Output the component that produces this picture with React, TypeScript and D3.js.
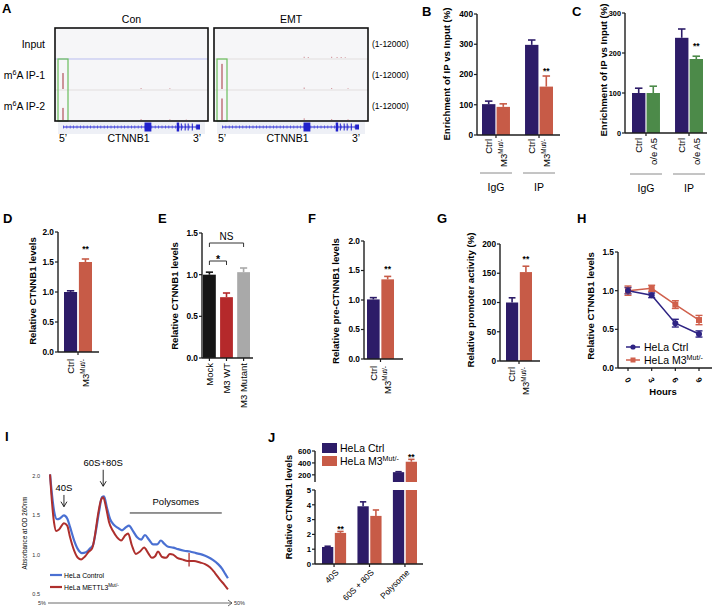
import React from 'react';
import * as d3 from 'd3';

const FONT = '"Liberation Sans", Arial, Helvetica, sans-serif';
const PURPLE = '#2d1c68';
const ORANGE = '#c75b47';
const GREEN = '#4c8a49';
const AXIS = '#1e1e1e';
const TICK_FS = 8.3;
const YLAB_FS = 9.6;

// ---------- Panel A ----------
const aSamples = ['Con', 'EMT'];
const aTracks = ['Input', 'm^6A IP-1', 'm^6A IP-2'];
const aRangeLabel = '(1-12000)';
const aPeakCon = [0, 6600, 5000];
const aPeakEmt = [0, 10400, 8900];
const aSpecksCon: [number, number, number][] = [[1, 0.57, 400], [1, 0.78, 300], [2, 0.57, 400], [2, 0.78, 300], [2, 0.9, 200]];
const aSpecksEmt: [number, number, number][] = [[0, 0.6, 500], [0, 0.63, 400], [0, 0.8, 500], [0, 0.84, 400], [0, 0.87, 400], [0, 0.9, 300], [1, 0.6, 600], [1, 0.8, 400], [1, 0.92, 300], [2, 0.6, 700], [2, 0.8, 400], [2, 0.92, 300]];
const aExons: [number, number, number][] = [[0.595, 0.645, 9], [0.83, 0.848, 9], [0.86, 0.866, 7], [0.888, 0.894, 7], [0.91, 0.916, 7], [0.94, 0.946, 7], [0.972, 1.0, 5]];

// ---------- Panel B ----------
const bGroups = ['IgG', 'IP'];
const bSeries = ['Ctrl', 'M3^Mut/-'];
const bCtrl = [102, 298];
const bCtrlErr = [10, 16];
const bMut = [93, 160];
const bMutErr = [10, 35];
const bTicks = [0, 100, 200, 300, 400];

// ---------- Panel C ----------
const cGroups = ['IgG', 'IP'];
const cSeries = ['Ctrl', 'o/e A5'];
const cCtrl = [100, 238];
const cCtrlErr = [12, 22];
const cOe = [100, 185];
const cOeErr = [17, 7];
const cTicks = [0, 100, 200, 300];

// ---------- Panel D ----------
const dCats = ['Ctrl', 'M3^Mut/-'];
const dVals = [1.0, 1.5];
const dErrs = [0.02, 0.05];
const dTicks = [0, 0.5, 1.0, 1.5, 2.0];

// ---------- Panel E ----------
const eCats = ['Mock', 'M3 WT', 'M3 Mutant'];
const eVals = [1.0, 0.73, 1.03];
const eErrs = [0.03, 0.05, 0.05];
const eTicks = [0, 0.5, 1.0, 1.5];

// ---------- Panel F ----------
const fCats = ['Ctrl', 'M3^Mut/-'];
const fVals = [1.01, 1.35];
const fErrs = [0.03, 0.05];
const fTicks = [0, 0.5, 1.0, 1.5, 2.0];

// ---------- Panel G ----------
const gCats = ['Ctrl', 'M3^Mut/-'];
const gVals = [100, 152];
const gErrs = [8, 10];
const gTicks = [0, 50, 100, 150, 200];

// ---------- Panel H ----------
const hHours = [0, 3, 6, 9];
const hCtrl = [1.0, 0.94, 0.58, 0.44];
const hCtrlErr = [0.04, 0.03, 0.05, 0.04];
const hMut = [1.0, 1.03, 0.82, 0.62];
const hMutErr = [0.06, 0.04, 0.05, 0.06];
const hTicks = [0, 0.5, 1.0, 1.5];

// ---------- Panel I ----------
const iCtrlX = [5.5, 6.0, 6.5, 7.2, 7.9, 8.9, 9.7, 10.4, 11.4, 12.3, 13.3, 14.3, 15.3, 16.0, 16.7, 17.5, 18.2, 18.7, 19.4, 20.2, 21.1, 22.1, 23.1, 24.1, 24.8, 25.8, 26.8, 27.8, 28.7, 29.7, 30.7, 31.7, 32.6, 33.4, 34.4, 35.6, 36.8, 38.3, 39.7, 41.2, 42.7, 44.1, 45.4, 46.6, 47.6, 48.3, 49.0];
const iCtrlY = [2.02, 1.75, 1.55, 1.45, 1.46, 1.5, 1.46, 1.35, 1.18, 1.07, 1.02, 1.03, 1.08, 1.12, 1.3, 1.55, 1.73, 1.74, 1.6, 1.45, 1.38, 1.34, 1.31, 1.35, 1.37, 1.3, 1.22, 1.19, 1.25, 1.19, 1.13, 1.13, 1.18, 1.14, 1.1, 1.09, 1.07, 1.05, 1.04, 1.02, 1.0, 0.97, 0.93, 0.88, 0.82, 0.76, 0.70];
const iMutX = [5.5, 6.0, 6.5, 7.0, 7.7, 8.9, 9.7, 10.4, 11.4, 12.3, 13.1, 14.1, 15.0, 15.8, 16.5, 17.2, 18.0, 18.5, 19.2, 19.9, 20.9, 21.9, 22.9, 23.8, 24.6, 25.5, 26.5, 27.5, 28.5, 29.5, 30.4, 31.2, 31.9, 32.9, 33.9, 34.8, 35.6, 36.6, 37.8, 39.2, 40.7, 42.2, 43.4, 44.6, 45.8, 47.1, 48.1, 49.0];
const iMutY = [2.02, 1.65, 1.4, 1.3, 1.32, 1.4, 1.37, 1.22, 1.05, 0.96, 0.94, 0.98, 1.04, 1.08, 1.25, 1.5, 1.7, 1.73, 1.6, 1.42, 1.3, 1.22, 1.18, 1.24, 1.27, 1.12, 1.01, 1.04, 1.09, 1.02, 0.96, 0.98, 1.04, 0.97, 0.96, 1.01, 1.0, 0.96, 0.94, 0.92, 0.92, 0.9, 0.88, 0.84, 0.77, 0.68, 0.62, 0.56];
const iTicks = [0.5, 1.0, 1.5, 2.0];
const iMarker = [39.5, 0.85, 1.02];
// label, x (% gradient), label level (absorbance units), arrow length (absorbance units)
const iAnno: [string, number, number, number][] = [['40S', 8.9, 1.81, 0.2], ['60S+80S', 18.5, 2.13, 0.26]];
const iPoly = [25.0, 47.5, 1.53];

// ---------- Panel J ----------
const jCats = ['40S', '60S + 80S', 'Polysome'];
const jCtrl = [1.15, 3.9, 245];
const jCtrlErr = [0.05, 0.3, 8];
const jMut = [2.1, 3.25, 420];
const jMutErr = [0.1, 0.4, 40];
const jLowTicks = [0, 1, 2, 3, 4, 5];
const jHighTicks = [200, 400, 600];

function Sup({ t, size }: { t: string; size: number }) {
  const [a, b] = t.split('^');
  if (!b) return <>{a}</>;
  return (
    <>
      {a}
      <tspan fontSize={size * 0.68} dy={-size * 0.38}>{b}</tspan>
    </>
  );
}

function MidSup({ t, size }: { t: string; size: number }) {
  const m = t.match(/^(.*?)\^(\d)(.*)$/);
  if (!m) return <>{t}</>;
  return (
    <>
      <tspan>{m[1]}</tspan>
      <tspan fontSize={size * 0.68} dy={-size * 0.38}>{m[2]}</tspan>
      <tspan dy={size * 0.38}>{m[3]}</tspan>
    </>
  );
}

function Letter({ x, y, t }: { x: number; y: number; t: string }) {
  return <text x={x} y={y} fontSize={13} fontWeight="bold">{t}</text>;
}

function YAxis({ y, x, ticks, fmt, fs = TICK_FS }: any) {
  const [d0, d1] = y.domain();
  return (
    <g>
      <line x1={x} x2={x} y1={y(d0)} y2={y(d1)} stroke={AXIS} strokeWidth={1.4} />
      {ticks.map((t: number) => (
        <g key={t}>
          <line x1={x - 3} x2={x} y1={y(t)} y2={y(t)} stroke={AXIS} strokeWidth={1.2} />
          <text x={x - 4} y={y(t)} dy="0.35em" textAnchor="end" fontSize={fs} fontWeight="bold">{fmt(t)}</text>
        </g>
      ))}
    </g>
  );
}

function YLabel({ x, y, t, fs = YLAB_FS }: any) {
  return (
    <text transform={`translate(${x},${y}) rotate(-90)`} textAnchor="middle" fontSize={fs} fontWeight="bold" dy="0.35em">{t}</text>
  );
}

function Bar({ x, w, y, v, e, color, base }: any) {
  const top = y(v);
  const b = base ?? y(0);
  const et = y(v + e);
  return (
    <g>
      <rect x={x} y={top} width={w} height={b - top} fill={color} />
      <line x1={x + w / 2} x2={x + w / 2} y1={top} y2={et} stroke={color} strokeWidth={1.6} />
      <line x1={x + w * 0.22} x2={x + w * 0.78} y1={et} y2={et} stroke={color} strokeWidth={1.6} />
    </g>
  );
}

function Stars({ x, cy, fs = 8.5 }: any) {
  return <text x={x} y={cy + fs * 0.62} textAnchor="middle" fontSize={fs} fontWeight="bold">**</text>;
}

function PanelA() {
  const boxes = [{ x0: 55, x1: 208 }, { x0: 214, x1: 368 }];
  const rows = d3.scaleBand<string>().domain(aTracks).range([28, 121]);
  const peaks = [aPeakCon, aPeakEmt];
  const specks = [aSpecksCon, aSpecksEmt];
  return (
    <g>
      <Letter x={2} y={13} t="A" />
      {aTracks.map((t) => (
        <text key={t} x={45} y={(rows(t) as number) + rows.bandwidth() / 2 + 4} textAnchor="end" fontSize={10.5}>
          <MidSup t={t} size={10.5} />
        </text>
      ))}
      {aTracks.map((t) => (
        <text key={'r' + t} x={372} y={(rows(t) as number) + rows.bandwidth() / 2 + 3} fontSize={8.5}>{aRangeLabel}</text>
      ))}
      {boxes.map((b, bi) => {
        const gx = d3.scaleLinear().domain([0, 1]).range([b.x0 + 8, b.x0 + 145]);
        const gy = 127;
        return (
          <g key={bi}>
            <text x={(b.x0 + b.x1) / 2} y={23} textAnchor="middle" fontSize={10.5}>{aSamples[bi]}</text>
            <rect x={b.x0} y={28} width={b.x1 - b.x0} height={93} fill="#f6f6f8" />
            {aTracks.map((t, ti) => {
              const base = (rows(t) as number) + rows.bandwidth();
              const ys = d3.scaleLinear().domain([0, 12000]).range([base - 1, base - 30]);
              return (
                <g key={t}>
                  {ti < 2 && <line x1={b.x0} x2={b.x1} y1={base} y2={base} stroke={bi === 0 && ti === 0 ? '#b9bdf0' : '#e2dede'} strokeWidth={1} />}
                  {peaks[bi][ti] > 0 && (
                    <line x1={gx(0)} x2={gx(0)} y1={ys(0)} y2={ys(peaks[bi][ti])} stroke="#a3303a" strokeWidth={1} />
                  )}
                  {specks[bi].filter((s) => s[0] === ti).map((s, si) => (
                    <line key={si} x1={gx(s[1])} x2={gx(s[1])} y1={ys(0)} y2={ys(s[2])} stroke="#d6a0a6" strokeWidth={1.2} />
                  ))}
                </g>
              );
            })}
            <rect x={gx(0) - 5} y={59} width={10} height={62} fill="none" stroke="#6cbf5e" strokeWidth={1.2} />
            <rect x={b.x0} y={28} width={b.x1 - b.x0} height={93} fill="none" stroke="#111" strokeWidth={1.6} />
            <rect x={b.x0 + 3} y={122} width={b.x1 - b.x0 - 6} height={12} fill="#eef0f6" />
            <line x1={gx(0)} x2={gx(1)} y1={gy} y2={gy} stroke="#2b2bd0" strokeWidth={1} />
            <line x1={gx(0)} x2={gx(1)} y1={gy} y2={gy} stroke="#4848e0" strokeWidth={3} strokeDasharray="0.8 2.6" />
            {aExons.map((e, ei) => (
              <rect key={ei} x={gx(e[0])} y={gy - e[2] / 2} width={Math.max(1, gx(e[1]) - gx(e[0]))} height={e[2]} fill="#2222cc" />
            ))}
            <text x={gx(0)} y={142} textAnchor="middle" fontSize={10.5}>5’</text>
            <text x={(gx(0) + gx(1)) / 2 - 3} y={142} textAnchor="middle" fontSize={10.5}>CTNNB1</text>
            <text x={gx(1) - 3} y={142} textAnchor="middle" fontSize={10.5}>3’</text>
          </g>
        );
      })}
    </g>
  );
}

function GroupedPanel({ letter, lx, groups, series, ctrl, ctrlErr, other, otherErr, otherColor, y, xr, axisX, axisEnd, ticks, ylabel, ylx, yly, starGap, labelTop, groupLineY, tickFs = TICK_FS }: any) {
  const outer = d3.scaleBand<string>().domain(groups).range(xr).paddingInner(0.35);
  const inner = d3.scaleBand<string>().domain(series).range([0, outer.bandwidth()]).paddingInner(0.08);
  const vals = [ctrl, other];
  const errs = [ctrlErr, otherErr];
  const colors = [PURPLE, otherColor];
  const base = y(0);
  return (
    <g>
      <Letter x={lx} y={16} t={letter} />
      <YLabel x={ylx} y={yly} t={ylabel} />
      {groups.map((g: string, gi: number) =>
        series.map((s: string, si: number) => (
          <Bar key={g + s} x={(outer(g) as number) + (inner(s) as number)} w={inner.bandwidth()} y={y} v={vals[si][gi]} e={errs[si][gi]} color={colors[si]} />
        ))
      )}
      <YAxis y={y} x={axisX} ticks={ticks} fmt={(t: number) => String(t)} fs={tickFs} />
      <line x1={axisX} x2={axisEnd} y1={base} y2={base} stroke={AXIS} strokeWidth={1.4} />
      {groups.map((g: string, gi: number) => {
        const cx = (outer(g) as number) + outer.bandwidth() / 2;
        const s1 = series[1];
        const sx = (outer(g) as number) + (inner(s1) as number) + inner.bandwidth() / 2;
        return (
          <g key={g}>
            <line x1={cx} x2={cx} y1={base} y2={base + 3} stroke={AXIS} strokeWidth={1.2} />
            {series.map((s: string) => {
              const bx = (outer(g) as number) + (inner(s) as number) + inner.bandwidth() / 2;
              return (
                <text key={s} transform={`translate(${bx},${labelTop}) rotate(-90)`} textAnchor="end" dy="0.35em" fontSize={9.5}>
                  <Sup t={s} size={9.5} />
                </text>
              );
            })}
            <line x1={(outer(g) as number) - 2} x2={(outer(g) as number) + outer.bandwidth() + 2} y1={groupLineY} y2={groupLineY} stroke="#8a8a8a" strokeWidth={1} />
            <text x={cx} y={groupLineY + 18} textAnchor="middle" fontSize={10.5}>{g}</text>
            {gi === 1 && <Stars x={sx} cy={y(other[1] + otherErr[1]) - starGap} />}
          </g>
        );
      })}
    </g>
  );
}

function SimplePanel({ letter, lx, cats, vals, errs, colors, y, xr, pad, axisX, axisEnd, ticks, fmt, ylabel, ylx, yly, labelTop, star, starGap, tickEach }: any) {
  const x = d3.scaleBand<string>().domain(cats).range(xr).paddingInner(pad);
  const base = y(0);
  const tickXs = tickEach ? cats.map((c: string) => (x(c) as number) + x.bandwidth() / 2) : [(xr[0] + xr[1]) / 2];
  return (
    <g>
      <Letter x={lx} y={223} t={letter} />
      <YLabel x={ylx} y={yly} t={ylabel} />
      {cats.map((c: string, i: number) => (
        <Bar key={c} x={x(c)} w={x.bandwidth()} y={y} v={vals[i]} e={errs[i]} color={colors[i]} />
      ))}
      <YAxis y={y} x={axisX} ticks={ticks} fmt={fmt} />
      <line x1={axisX} x2={axisEnd} y1={base} y2={base} stroke={AXIS} strokeWidth={1.4} />
      {tickXs.map((tx: number, i: number) => (
        <line key={i} x1={tx} x2={tx} y1={base} y2={base + 3} stroke={AXIS} strokeWidth={1.2} />
      ))}
      {cats.map((c: string) => (
        <text key={c} transform={`translate(${(x(c) as number) + x.bandwidth() / 2},${labelTop}) rotate(-90)`} textAnchor="end" dy="0.35em" fontSize={9.5}>
          <Sup t={c} size={9.5} />
        </text>
      ))}
      {star != null && (
        <Stars x={(x(cats[star]) as number) + x.bandwidth() / 2} cy={y(vals[star] + errs[star]) - starGap} />
      )}
    </g>
  );
}

function PanelE() {
  const y = d3.scaleLinear().domain([0, 1.5]).range([358, 233]);
  const x = d3.scaleBand<string>().domain(eCats).range([203, 250]).paddingInner(0.25);
  const cx = (c: string) => (x(c) as number) + x.bandwidth() / 2;
  const nsY = 243;
  const stY = 261;
  return (
    <g>
      <SimplePanel letter="E" lx={158} cats={eCats} vals={eVals} errs={eErrs} colors={['#151515', '#b5292b', '#a9a9a9']} y={y} xr={[203, 250]} pad={0.25} axisX={202} axisEnd={253} ticks={eTicks} fmt={d3.format('.1f')} ylabel="Relative CTNNB1 levels" ylx={175} yly={296} labelTop={363} tickEach={true} />
      <path d={`M${cx(eCats[0])},${nsY + 4}V${nsY}H${cx(eCats[2])}V${nsY + 4}`} fill="none" stroke="#333" strokeWidth={1} />
      <text x={(cx(eCats[0]) + cx(eCats[2])) / 2} y={nsY - 3} textAnchor="middle" fontSize={10}>NS</text>
      <path d={`M${cx(eCats[0])},${stY + 4}V${stY}H${cx(eCats[1])}V${stY + 4}`} fill="none" stroke="#333" strokeWidth={1} />
      <text x={(cx(eCats[0]) + cx(eCats[1])) / 2} y={stY + 2} textAnchor="middle" fontSize={10.5} fontWeight="bold">*</text>
    </g>
  );
}

function PanelH() {
  const x = d3.scaleLinear().domain([0, 9]).range([628, 699]);
  const y = d3.scaleLinear().domain([0, 1.5]).range([368, 252]);
  const cC = '#2e2383';
  const cM = '#d0604c';
  const line = d3.line<number>().x((_, i) => x(hHours[i])).y((d) => y(d));
  const err = (vals: number[], errs: number[], col: string) =>
    vals.map((v, i) => (
      <g key={i}>
        <line x1={x(hHours[i])} x2={x(hHours[i])} y1={y(v - errs[i])} y2={y(v + errs[i])} stroke={col} strokeWidth={1.4} />
        <line x1={x(hHours[i]) - 3.5} x2={x(hHours[i]) + 3.5} y1={y(v - errs[i])} y2={y(v - errs[i])} stroke={col} strokeWidth={1.4} />
        <line x1={x(hHours[i]) - 3.5} x2={x(hHours[i]) + 3.5} y1={y(v + errs[i])} y2={y(v + errs[i])} stroke={col} strokeWidth={1.4} />
      </g>
    ));
  return (
    <g>
      <Letter x={577} y={223} t="H" />
      <YLabel x={591} y={306} t="Relative CTNNB1 levels" />
      <YAxis y={y} x={618} ticks={hTicks} fmt={d3.format('.1f')} />
      <line x1={618} x2={712} y1={y(0)} y2={y(0)} stroke={AXIS} strokeWidth={1.4} />
      {hHours.map((h) => (
        <g key={h}>
          <line x1={x(h)} x2={x(h)} y1={y(0)} y2={y(0) + 3} stroke={AXIS} strokeWidth={1.2} />
          <text transform={`translate(${x(h)},${y(0) + 12}) rotate(60)`} textAnchor="middle" dy="0.35em" fontSize={8} fontWeight="bold">{h}</text>
        </g>
      ))}
      <text x={663} y={395} textAnchor="middle" fontSize={9.5} fontWeight="bold">Hours</text>
      <path d={line(hMut) || ''} fill="none" stroke={cM} strokeWidth={1.5} />
      <path d={line(hCtrl) || ''} fill="none" stroke={cC} strokeWidth={1.5} />
      {err(hMut, hMutErr, cM)}
      {err(hCtrl, hCtrlErr, cC)}
      {hMut.map((v, i) => <rect key={i} x={x(hHours[i]) - 3} y={y(v) - 3} width={6} height={6} fill={cM} />)}
      {hCtrl.map((v, i) => <circle key={i} cx={x(hHours[i])} cy={y(v)} r={3} fill={cC} />)}
      <line x1={626} x2={640} y1={347} y2={347} stroke={cC} strokeWidth={1.5} />
      <circle cx={633} cy={347} r={2.6} fill={cC} />
      <text x={644} y={351} fontSize={10.5}>HeLa Ctrl</text>
      <line x1={626} x2={640} y1={360} y2={360} stroke={cM} strokeWidth={1.5} />
      <rect x={630.5} y={357.5} width={5} height={5} fill={cM} />
      <text x={644} y={364} fontSize={10.5}><Sup t="HeLa M3^Mut/-" size={10.5} /></text>
    </g>
  );
}

function PanelI() {
  const x = d3.scaleLinear().domain([5, 50]).range([48, 232]);
  const y = d3.scaleLinear().domain([0.5, 2.0]).range([594, 476]);
  const mk = (xs: number[], ys: number[]) =>
    d3.line<number>().x((_, i) => x(xs[i])).y((d) => y(d)).curve(d3.curveMonotoneX)(ys) || '';
  const blue = '#4a70d2';
  const red = '#ae2f2d';
  return (
    <g>
      <Letter x={5} y={441} t="I" />
      <text transform="translate(25,533) rotate(-90)" textAnchor="middle" fontSize={6.3} dy="0.35em">Absorbance at OD 260nm</text>
      {iTicks.map((t) => (
        <text key={t} x={40} y={y(t)} dy="0.35em" textAnchor="end" fontSize={5.5} fill="#333">{d3.format('.1f')(t)}</text>
      ))}
      <path d={mk(iCtrlX, iCtrlY)} fill="none" stroke={blue} strokeWidth={2.2} />
      <path d={mk(iMutX, iMutY)} fill="none" stroke={red} strokeWidth={2} />
      <line x1={x(iMarker[0])} x2={x(iMarker[0])} y1={y(iMarker[1])} y2={y(iMarker[2])} stroke={red} strokeWidth={1.3} />
      {iAnno.map((a) => {
        const ax = x(a[1]);
        const ay = y(a[2]);
        const ae = y(a[2] - a[3]);
        return (
          <g key={a[0]}>
            <text x={ax} y={ay} textAnchor="middle" fontSize={9.5}>{a[0]}</text>
            <line x1={ax} x2={ax} y1={ay + 4} y2={ae} stroke="#111" strokeWidth={0.9} />
            <path d={`M${ax - 3},${ae - 5}L${ax},${ae}L${ax + 3},${ae - 5}`} fill="none" stroke="#111" strokeWidth={0.9} />
          </g>
        );
      })}
      <text x={(x(iPoly[0]) + x(iPoly[1])) / 2} y={y(iPoly[2]) - 8} textAnchor="middle" fontSize={9.5}>Polysomes</text>
      <line x1={x(iPoly[0])} x2={x(iPoly[1])} y1={y(iPoly[2])} y2={y(iPoly[2])} stroke="#111" strokeWidth={0.9} />
      <line x1={x(5)} x2={x(50)} y1={603} y2={603} stroke="#444" strokeWidth={0.8} />
      <path d={`M${x(50) - 4},${600}L${x(50)},${603}L${x(50) - 4},${606}`} fill="none" stroke="#444" strokeWidth={0.8} />
      <text x={x(5) - 2} y={605} textAnchor="end" fontSize={5.5} fill="#333">5%</text>
      <text x={x(50) + 2} y={605} fontSize={5.5} fill="#333">50%</text>
      <line x1={50} x2={62} y1={575} y2={575} stroke={blue} strokeWidth={2.2} />
      <text x={64} y={577.5} fontSize={6.8}>HeLa Control</text>
      <line x1={50} x2={62} y1={587} y2={587} stroke={red} strokeWidth={2.2} />
      <text x={64} y={589.5} fontSize={6.8}><Sup t="HeLa METTL3^Mut/-" size={6.8} /></text>
    </g>
  );
}

function PanelJ() {
  const yL = d3.scaleLinear().domain([0, 5]).range([564, 490]);
  const yU = d3.scaleLinear().domain([80, 600]).range([482, 451]);
  const outer = d3.scaleBand<string>().domain(jCats).range([322, 417]).paddingInner(0.32);
  const inner = d3.scaleBand<string>().domain(['c', 'm']).range([0, outer.bandwidth()]).paddingInner(0.12);
  const vals = [jCtrl, jMut];
  const errs = [jCtrlErr, jMutErr];
  const cols = [PURPLE, ORANGE];
  const axisX = 315;
  return (
    <g>
      <Letter x={268} y={442} t="J" />
      <YLabel x={289} y={507} t="Relative CTNNB1 levels" fs={9.3} />
      {jCats.map((c, ci) =>
        ['c', 'm'].map((s, si) => {
          const bx = (outer(c) as number) + (inner(s) as number);
          const w = inner.bandwidth();
          const v = vals[si][ci];
          const e = errs[si][ci];
          if (v <= 5) return <Bar key={c + s} x={bx} w={w} y={yL} v={v} e={e} color={cols[si]} />;
          return (
            <g key={c + s}>
              <rect x={bx} y={yL(5)} width={w} height={yL(0) - yL(5)} fill={cols[si]} />
              <Bar x={bx} w={w} y={yU} v={v} e={e} color={cols[si]} base={yU(80)} />
            </g>
          );
        })
      )}
      <YAxis y={yL} x={axisX} ticks={jLowTicks} fmt={(t: number) => String(t)} fs={7.8} />
      <YAxis y={yU} x={axisX} ticks={jHighTicks} fmt={(t: number) => String(t)} fs={7.8} />
      <line x1={axisX} x2={423} y1={yL(0)} y2={yL(0)} stroke={AXIS} strokeWidth={1.4} />
      {jCats.map((c) => {
        const cx = (outer(c) as number) + outer.bandwidth() / 2;
        return (
          <g key={c}>
            <line x1={cx} x2={cx} y1={yL(0)} y2={yL(0) + 3} stroke={AXIS} strokeWidth={1.2} />
            <text transform={`translate(${cx + 3},${yL(0) + 7}) rotate(-45)`} textAnchor="end" dy="0.35em" fontSize={8.5}>{c}</text>
          </g>
        );
      })}
      <Stars x={(outer(jCats[0]) as number) + (inner('m') as number) + inner.bandwidth() / 2} cy={yL(jMut[0] + jMutErr[0]) - 5} />
      <Stars x={(outer(jCats[2]) as number) + (inner('m') as number) + inner.bandwidth() / 2} cy={yU(jMut[2] + jMutErr[2]) - 5} />
      <rect x={322} y={443} width={15} height={10} fill={PURPLE} />
      <text x={340} y={452} fontSize={10.5}>HeLa Ctrl</text>
      <rect x={322} y={456} width={15} height={10} fill={ORANGE} />
      <text x={340} y={465} fontSize={10.5}><Sup t="HeLa M3^Mut/-" size={10.5} /></text>
    </g>
  );
}

export default function App() {
  const f1 = d3.format('.1f');
  return (
    <svg width={718} height={612} style={{ position: 'absolute', left: 0, top: 0, fontFamily: FONT }}>
      <rect width={718} height={612} fill="#fff" />
      <PanelA />
      <GroupedPanel letter="B" lx={422} groups={bGroups} series={bSeries} ctrl={bCtrl} ctrlErr={bCtrlErr} other={bMut} otherErr={bMutErr} otherColor={ORANGE}
        y={d3.scaleLinear().domain([0, 400]).range([135, 14])} xr={[482, 553]} axisX={477} axisEnd={560} ticks={bTicks}
        ylabel="Enrichment of IP vs Input (%)" ylx={447} yly={74} starGap={7} labelTop={139} groupLineY={173} />
      <GroupedPanel letter="C" lx={572} groups={cGroups} series={cSeries} ctrl={cCtrl} ctrlErr={cCtrlErr} other={cOe} otherErr={cOeErr} otherColor={GREEN}
        y={d3.scaleLinear().domain([0, 300]).range([133, 13])} xr={[632, 703]} axisX={625} axisEnd={707} ticks={cTicks}
        ylabel="Enrichment of IP vs Input (%)" ylx={604} yly={70} starGap={12} labelTop={138} groupLineY={174} tickFs={7.3} />
      <SimplePanel letter="D" lx={3} cats={dCats} vals={dVals} errs={dErrs} colors={[PURPLE, ORANGE]} y={d3.scaleLinear().domain([0, 2]).range([352, 232])}
        xr={[64, 92]} pad={0.12} axisX={58} axisEnd={99} ticks={dTicks} fmt={f1} ylabel="Relative CTNNB1 levels" ylx={33} yly={291} labelTop={359} star={1} starGap={12} />
      <PanelE />
      <SimplePanel letter="F" lx={308} cats={fCats} vals={fVals} errs={fErrs} colors={[PURPLE, ORANGE]} y={d3.scaleLinear().domain([0, 2]).range([359, 241])}
        xr={[367, 394]} pad={0.12} axisX={364} axisEnd={403} ticks={fTicks} fmt={f1} ylabel="Relative pre-CTNNB1 levels" ylx={336} yly={301} labelTop={366} star={1} starGap={10} />
      <SimplePanel letter="G" lx={437} cats={gCats} vals={gVals} errs={gErrs} colors={[PURPLE, ORANGE]} y={d3.scaleLinear().domain([0, 200]).range([361, 244])}
        xr={[506, 532]} pad={0.12} axisX={500} axisEnd={540} ticks={gTicks} fmt={(t: number) => String(t)} ylabel="Relative promoter activity (%)" ylx={471} yly={300} labelTop={367} star={1} starGap={10} />
      <PanelH />
      <PanelI />
      <PanelJ />
    </svg>
  );
}
